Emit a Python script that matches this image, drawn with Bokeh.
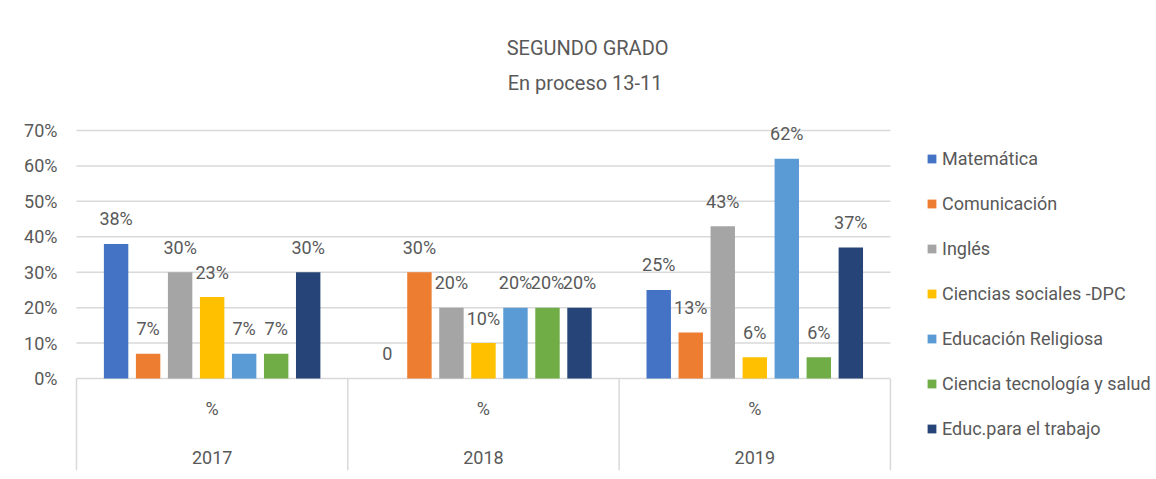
from bokeh.plotting import figure
from bokeh.models import ColumnDataSource, FixedTicker, Legend, LegendItem, Label
from bokeh.transform import dodge
from bokeh.core.properties import value
from bokeh.embed import file_html
from bokeh.resources import INLINE

# ---- data ----
years = ["2017", "2018", "2019"]
sub_label = "%"
series_names = ["Matemática", "Comunicación", "Inglés", "Ciencias sociales -DPC",
                "Educación Religiosa", "Ciencia tecnología y salud", "Educ.para el trabajo"]
matematica = [0.38, 0.00, 0.25]
comunicacion = [0.07, 0.30, 0.13]
ingles = [0.30, 0.20, 0.43]
ciencias_sociales = [0.23, 0.10, 0.06]
educacion_religiosa = [0.07, 0.20, 0.62]
ciencia_tecnologia = [0.07, 0.20, 0.06]
educ_trabajo = [0.30, 0.20, 0.37]
labels_matematica = ["38%", "0", "25%"]
y_ticks = [0, 0.1, 0.2, 0.3, 0.4, 0.5, 0.6, 0.7]
y_tick_labels = {0: "0%", 0.1: "10%", 0.2: "20%", 0.3: "30%", 0.4: "40%",
                 0.5: "50%", 0.6: "60%", 0.7: "70%"}
title_lines = ["SEGUNDO GRADO", "En proceso  13-11"]

series_values = [matematica, comunicacion, ingles, ciencias_sociales,
                 educacion_religiosa, ciencia_tecnologia, educ_trabajo]
colors = ["#4472C4", "#ED7D31", "#A5A5A5", "#FFC000", "#5B9BD5", "#70AD47", "#264478"]

FONT = "Roboto"
FS = "18px"
TXT = "#595959"
GRID = "#D9D9D9"

group_x = [i + 0.5 for i in range(len(years))]

p = figure(width=1155, height=478, output_backend="svg", toolbar_location=None,
           x_range=(-0.011, 3.977), y_range=(-0.2596, 1.0472),
           x_axis_location=None, min_border_left=73, min_border_right=0,
           min_border_top=7, min_border_bottom=8)
p.outline_line_color = None
p.xgrid.visible = False
p.ygrid.visible = False

# y axis
p.yaxis.ticker = FixedTicker(ticks=y_ticks)
p.yaxis.major_label_overrides = y_tick_labels
p.yaxis.axis_line_color = None
p.yaxis.major_tick_line_color = None
p.yaxis.minor_tick_line_color = None
p.yaxis.major_label_text_font = FONT
p.yaxis.major_label_text_font_size = FS
p.yaxis.major_label_text_color = TXT
p.yaxis.major_label_standoff = 10

# gridlines (only across the plot area)
p.segment(x0=[0] * len(y_ticks), x1=[3] * len(y_ticks), y0=y_ticks, y1=y_ticks,
          line_color=GRID, line_width=1.5)
# category separators below axis
p.segment(x0=[0, 1, 2, 3], x1=[0, 1, 2, 3], y0=[0] * 4, y1=[-0.2596] * 4,
          line_color=GRID, line_width=1.5)

data = dict(x=group_x)
for i, vals in enumerate(series_values):
    data[f"s{i}"] = vals
    data[f"l{i}"] = [f"{round(v * 100)}%" for v in vals]
data["l0"] = labels_matematica
src = ColumnDataSource(data)

step = 0.118
bw = 0.09
items = []
for i, name in enumerate(series_names):
    off = (i - 3) * step
    r = p.vbar(x=dodge("x", off, range=p.x_range), top=f"s{i}", width=bw, source=src,
               fill_color=colors[i], line_color=None)
    p.text(x=dodge("x", off, range=p.x_range), y=f"s{i}", text=f"l{i}", source=src,
           text_align="center", text_baseline="middle", y_offset=-25,
           text_font=value(FONT), text_font_size=FS, text_color=TXT)
    items.append(LegendItem(label=name, renderers=[r]))

# category labels
p.text(x=group_x, y=[-0.0846] * 3, text=[sub_label] * 3, text_align="center",
       text_baseline="middle", text_font=value(FONT), text_font_size=FS, text_color=TXT)
p.text(x=group_x, y=[-0.223] * 3, text=years, text_align="center",
       text_baseline="middle", text_font=value(FONT), text_font_size=FS, text_color=TXT)

# title
p.add_layout(Label(x=1.884, y=0.932, text=title_lines[0], text_align="center",
                   text_baseline="middle", text_font=FONT, text_font_size="20px",
                   text_color=TXT))
p.add_layout(Label(x=1.884, y=0.835, text=title_lines[1], text_align="center",
                   text_baseline="middle", text_font=FONT, text_font_size="20px",
                   text_color=TXT))

legend = Legend(items=items, location=(853, 31), orientation="vertical",
                label_text_font=FONT, label_text_font_size=FS, label_text_color=TXT,
                glyph_width=11, glyph_height=11, label_height=22, spacing=23,
                label_standoff=5, padding=0, margin=0, border_line_color=None,
                background_fill_alpha=0)
p.add_layout(legend)

open("out.html", "w").write(file_html(p, INLINE))
